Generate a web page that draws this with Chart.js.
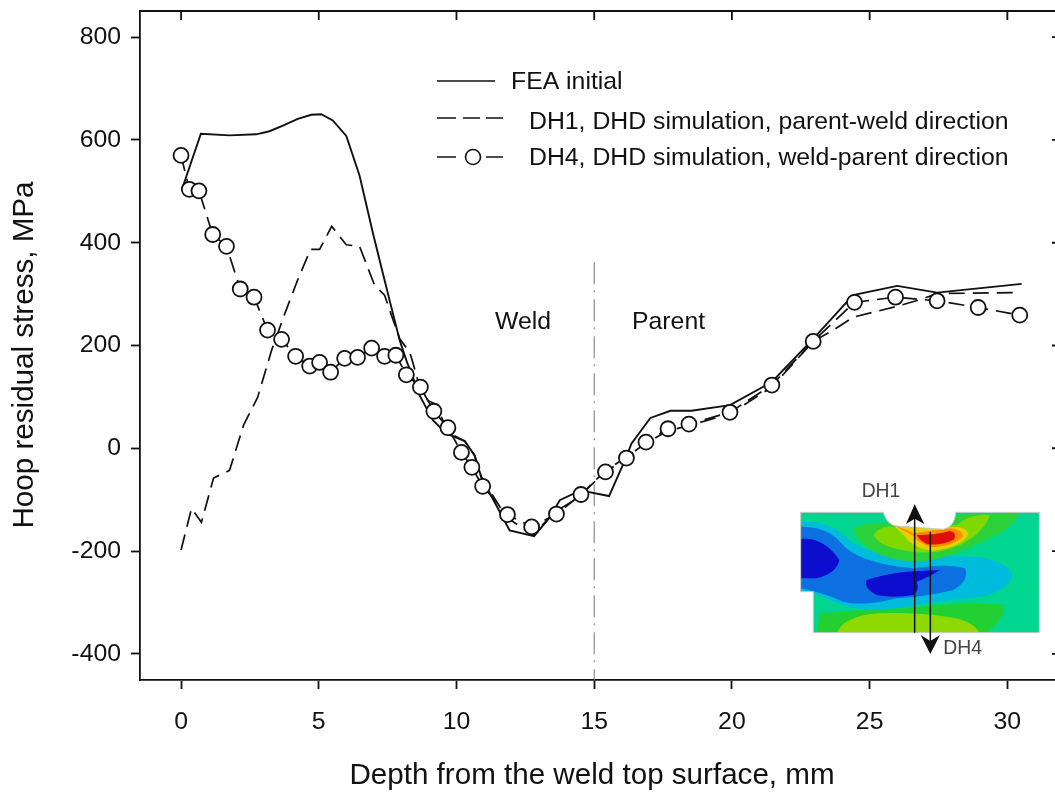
<!DOCTYPE html>
<html>
<head>
<meta charset="utf-8">
<title>Hoop residual stress</title>
<script src="https://cdn.jsdelivr.net/npm/chart.js@4/dist/chart.umd.min.js"></script>
<style>
  html, body { margin: 0; padding: 0; background: #fff; overflow: hidden; }
  #wrap { position: relative; width: 1055px; height: 795px; }
  #chart { display: block; }
  #inset { position: absolute; left: 780px; top: 470px; }
</style>
</head>
<body>
<div id="wrap">
  <canvas id="chart" width="1055" height="795"></canvas>
  <!-- contour picture of the weld, coordinates are in 3x crop units -->
  <svg id="inset" width="275" height="200" viewBox="0 0 825 600" xmlns="http://www.w3.org/2000/svg">
    <defs>
      <clipPath id="plate">
        <path d="M62,127 L310,127 Q320,165 350,168 L490,178 Q525,170 527,127 L778,127 L778,488 L100,488 L100,365 L62,365 Z"/>
      </clipPath>
      <filter id="soft"><feGaussianBlur stdDeviation="1.5"/></filter>
    </defs>
    <g clip-path="url(#plate)">
      <g filter="url(#soft)">
        <rect x="50" y="120" width="740" height="380" fill="#00d68f"/>
        <path fill="#00bcdc" d="M62,155 Q140,150 190,195 Q240,250 400,265 Q500,255 600,262 Q695,280 695,320 Q680,375 560,385 Q450,395 330,420 Q230,425 160,395 Q100,365 62,365 Z"/>
        <path fill="#0a6fe0" d="M62,170 Q140,170 180,215 Q230,280 400,295 Q500,280 555,295 Q570,330 520,360 Q440,380 350,385 Q250,410 190,395 Q120,365 62,355 Z"/>
        <path fill="#0808d0" d="M62,207 Q130,200 178,270 Q170,310 110,325 L62,325 Z"/>
        <path fill="#0808d0" d="M260,330 Q320,310 380,305 L480,300 Q450,320 410,335 Q420,360 400,375 Q340,385 290,375 Q250,355 260,330 Z"/>
        <path fill="#2bd13a" d="M222,175 Q260,155 320,160 L530,135 Q600,125 710,130 Q720,150 660,190 Q560,240 480,265 Q380,290 290,250 Q220,210 222,175 Z"/>
        <path fill="#7fd900" d="M280,195 Q300,165 340,170 L530,165 Q570,130 630,135 Q610,190 540,225 Q470,255 400,245 Q300,235 280,195 Z"/>
        <path fill="#e8d000" d="M340,165 L510,172 Q560,165 565,195 Q540,232 460,242 Q400,235 375,200 Z"/>
        <path fill="#ff8c00" d="M345,168 Q380,178 400,190 L510,175 Q550,178 548,200 Q520,228 460,232 Q420,225 400,198 Z"/>
        <path fill="#e01010" d="M410,195 Q470,195 510,182 Q535,190 520,210 Q480,228 440,222 Q420,212 410,195 Z"/>
        <path fill="#22d030" d="M120,430 Q250,420 400,412 Q550,395 670,405 Q680,440 620,488 L110,488 Z"/>
        <path fill="#8fd800" d="M170,490 Q190,440 290,430 Q400,425 500,440 Q580,450 600,490 Z"/>
      </g>
    </g>
    <path fill="none" stroke="#c4c8c4" stroke-width="3" d="M62,127 L310,127 Q320,165 350,168 L490,178 Q525,170 527,127 L778,127 L778,488 L100,488 L100,365 L62,365 Z"/>
    <path stroke="#111" stroke-width="4.5" fill="none" d="M404,488 L404,135 M451,185 L451,520"/>
    <path fill="#111" d="M404,103 L378,162 L404,146 L433,162 Z M451,552 L422,495 L451,513 L480,495 Z"/>
    <text x="245" y="82" font-family="Liberation Sans" font-size="58" fill="#444">DH1</text>
    <text x="490" y="552" font-family="Liberation Sans" font-size="58" fill="#444">DH4</text>
  </svg>
</div>
<script>
const xTicks = [0, 5, 10, 15, 20, 25, 30];
const yTicks = [-400, -200, 0, 200, 400, 600, 800];

const seriesNames = [
  "FEA initial",
  "DH1, DHD simulation, parent-weld direction",
  "DH4, DHD simulation, weld-parent direction",
];

const feaX = [0.04, 0.72, 1.76, 2.73, 3.21, 3.7, 4.24, 4.73, 5.09, 5.51, 6.0, 6.48, 6.97, 7.39, 7.6, 7.94, 8.18, 8.66, 9.15, 9.63, 10.3, 10.66, 10.9, 11.93, 12.82, 13.39, 13.75, 14.5, 15.54, 16.17, 16.35, 17.04, 17.77, 18.53, 19.93, 21.45, 22.95, 24.4, 26, 27.45, 30.52];
const feaY = [505, 612, 609, 611, 617, 628, 641, 649, 650, 638, 608, 531, 418, 327, 282, 210, 171, 103, 54, 29, 14, -14, -56, -160, -171, -134, -101, -82, -93, -17, 9, 59, 73, 73, 84, 129, 213, 298, 316, 303, 320];

const dh1X = [0, 0.38, 0.74, 1.18, 1.76, 2.27, 2.78, 3.29, 3.76, 4.23, 4.7, 5.03, 5.47, 6.0, 6.48, 7.03, 7.39, 7.6, 7.94, 8.3, 8.41, 8.6, 8.96, 9.2, 9.75, 10.3, 10.66, 10.9, 11.81, 12.78, 13.39, 13.87, 14.47, 14.96, 15.44, 16.17, 16.88, 17.68, 18.44, 19.93, 21.45, 22.95, 23.68, 24.4, 25.97, 26.82, 27.45, 30.45];
const dh1Y = [-198, -117, -144, -58, -43, 45, 99, 191, 261, 327, 387, 387, 432, 396, 393, 317, 298, 265, 213, 187, 168, 132, 93, 87, 29, 14, -14, -56, -134, -169, -134, -114, -95, -66, -43, -17, 10, 34, 44, 67, 119, 208, 230, 255, 276, 289, 301, 303];

const dh4X = [0, 0.3, 0.65, 1.15, 1.65, 2.15, 2.65, 3.14, 3.65, 4.16, 4.67, 5.03, 5.43, 5.94, 6.41, 6.92, 7.39, 7.8, 8.18, 8.69, 9.18, 9.69, 10.18, 10.56, 10.95, 11.85, 12.73, 13.63, 14.52, 15.41, 16.17, 16.88, 17.68, 18.44, 19.93, 21.45, 22.95, 24.45, 25.94, 27.45, 28.94, 30.45];
const dh4Y = [570, 504, 501, 416, 393, 310, 294, 230, 212, 179, 160, 167, 148, 175, 177, 195, 179, 181, 143, 119, 72, 40, -8, -37, -74, -129, -153, -128, -90, -46, -19, 12, 38, 47, 70, 123, 208, 284, 294, 287, 274, 259];

const dividerX = [15, 15];
const dividerY = [362, -451];

const ink = "#111";
const fontFamily = "'Liberation Sans', Arial, sans-serif";

function toPoints(xs, ys) {
  return xs.map((x, i) => ({ x, y: ys[i] }));
}

// top frame line and the inward ticks on the top and right sides, legend, labels
const framePlugin = {
  id: "frame",
  afterDraw(chart) {
    const { ctx, chartArea, scales } = chart;
    ctx.save();
    ctx.strokeStyle = ink;
    ctx.lineWidth = 1.8;
    ctx.beginPath();
    ctx.moveTo(chartArea.left, chartArea.top);
    ctx.lineTo(chartArea.right, chartArea.top);
    xTicks.forEach((v) => {
      const px = scales.x.getPixelForValue(v);
      ctx.moveTo(px, chartArea.top);
      ctx.lineTo(px, chartArea.top + 9);
    });
    yTicks.forEach((v) => {
      const py = scales.y.getPixelForValue(v);
      ctx.moveTo(chartArea.right, py);
      ctx.lineTo(chartArea.right - 3, py);
    });
    ctx.stroke();

    // legend samples
    ctx.lineWidth = 1.6;
    ctx.beginPath();
    ctx.moveTo(437, 81);
    ctx.lineTo(495, 81);
    [[437, 456], [463, 480], [486, 503]].forEach(([a, b]) => {
      ctx.moveTo(a, 118);
      ctx.lineTo(b, 118);
    });
    [[437, 456], [486, 503]].forEach(([a, b]) => {
      ctx.moveTo(a, 157);
      ctx.lineTo(b, 157);
    });
    ctx.stroke();
    ctx.beginPath();
    ctx.arc(473, 157, 7.5, 0, Math.PI * 2);
    ctx.fillStyle = "#fff";
    ctx.fill();
    ctx.stroke();

    // legend and annotation text
    ctx.fillStyle = ink;
    ctx.textBaseline = "middle";
    ctx.textAlign = "left";
    ctx.font = `24.8px ${fontFamily}`;
    ctx.fillText(seriesNames[0], 511, 82);
    ctx.fillText(seriesNames[1], 529, 122);
    ctx.fillText(seriesNames[2], 529, 158);
    ctx.fillText("Weld", 495, 322);
    ctx.fillText("Parent", 632, 322);

    // axis titles
    ctx.textAlign = "center";
    ctx.font = `29.6px ${fontFamily}`;
    ctx.fillText("Depth from the weld top surface, mm", 592, 776);
    ctx.translate(25, 355);
    ctx.rotate(-Math.PI / 2);
    ctx.fillText("Hoop residual stress, MPa", 0, 0);
    ctx.restore();
  },
};

new Chart(document.getElementById("chart"), {
  type: "scatter",
  data: {
    datasets: [
      {
        label: seriesNames[0],
        data: toPoints(feaX, feaY),
        showLine: true,
        borderColor: ink,
        borderWidth: 1.9,
        pointRadius: 0,
        order: 3,
      },
      {
        label: seriesNames[1],
        data: toPoints(dh1X, dh1Y),
        showLine: true,
        borderColor: ink,
        borderWidth: 1.7,
        borderDash: [16, 8],
        pointRadius: 0,
        order: 2,
      },
      {
        label: seriesNames[2],
        data: toPoints(dh4X, dh4Y),
        showLine: true,
        borderColor: ink,
        borderWidth: 1.7,
        borderDash: [16, 8],
        pointRadius: 7.5,
        pointBorderWidth: 1.8,
        pointBorderColor: ink,
        pointBackgroundColor: "#fff",
        order: 1,
      },
      {
        label: "Weld/parent boundary",
        data: toPoints(dividerX, dividerY),
        showLine: true,
        borderColor: "#777",
        borderWidth: 1,
        borderDash: [22, 6, 2, 7],
        pointRadius: 0,
        order: 4,
      },
    ],
  },
  options: {
    responsive: false,
    animation: false,
    layout: { autoPadding: false, padding: { top: 11, right: 0, left: 0, bottom: 0 } },
    plugins: {
      legend: { display: false },
      tooltip: { enabled: false },
    },
    scales: {
      x: {
        type: "linear",
        min: -1.49,
        max: 31.73,
        afterBuildTicks: (scale) => {
          scale.ticks = xTicks.map((value) => ({ value }));
        },
        afterFit: (scale) => {
          scale.height = 115;
          scale.paddingLeft = 0;
          scale.paddingRight = 0;
        },
        grid: { drawOnChartArea: false, tickLength: 9, tickWidth: 1.8, tickColor: ink },
        border: { color: ink, width: 1.8 },
        ticks: {
          color: ink,
          padding: 18,
          maxRotation: 0,
          font: { family: fontFamily, size: 24.8 },
        },
      },
      y: {
        type: "linear",
        min: -451,
        max: 851,
        afterBuildTicks: (scale) => {
          scale.ticks = yTicks.map((value) => ({ value }));
        },
        afterFit: (scale) => {
          scale.width = 140;
          scale.paddingTop = 0;
          scale.paddingBottom = 0;
          // the fixed frame position must not be pushed in by the tick label height
          if (scale._margins) {
            scale._margins.top = 0;
            scale._margins.bottom = 0;
          }
        },
        grid: { drawOnChartArea: false, tickLength: 9, tickWidth: 1.8, tickColor: ink },
        border: { color: ink, width: 1.8 },
        ticks: {
          color: ink,
          padding: 10,
          font: { family: fontFamily, size: 24.8 },
        },
      },
    },
  },
  plugins: [framePlugin],
});
</script>
</body>
</html>
